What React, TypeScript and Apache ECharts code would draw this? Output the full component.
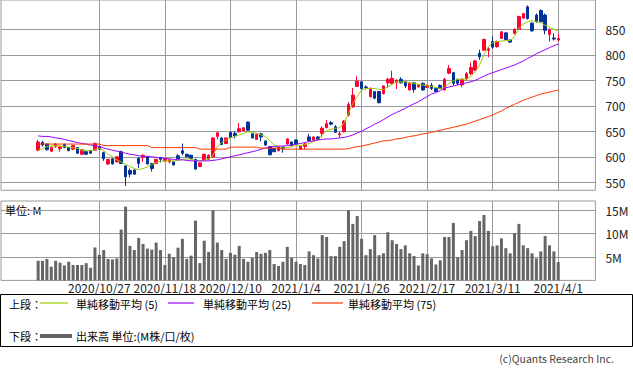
import React, { useEffect, useRef } from 'react';
import * as echarts from 'echarts';

const dates: string[] = [
  '2020/10/7','2020/10/8','2020/10/9','2020/10/12','2020/10/13','2020/10/14','2020/10/15','2020/10/16','2020/10/19','2020/10/20',
  '2020/10/21','2020/10/22','2020/10/23','2020/10/26','2020/10/27','2020/10/28','2020/10/29','2020/10/30','2020/11/2','2020/11/4',
  '2020/11/5','2020/11/6','2020/11/9','2020/11/10','2020/11/11','2020/11/12','2020/11/13','2020/11/16','2020/11/17','2020/11/18',
  '2020/11/19','2020/11/20','2020/11/24','2020/11/25','2020/11/26','2020/11/27','2020/11/30','2020/12/1','2020/12/2','2020/12/3',
  '2020/12/4','2020/12/7','2020/12/8','2020/12/9','2020/12/10','2020/12/11','2020/12/14','2020/12/15','2020/12/16','2020/12/17',
  '2020/12/18','2020/12/21','2020/12/22','2020/12/23','2020/12/24','2020/12/25','2020/12/28','2020/12/29','2020/12/30','2021/1/4',
  '2021/1/5','2021/1/6','2021/1/7','2021/1/8','2021/1/12','2021/1/13','2021/1/14','2021/1/15','2021/1/18','2021/1/19',
  '2021/1/20','2021/1/21','2021/1/22','2021/1/25','2021/1/26','2021/1/27','2021/1/28','2021/1/29','2021/2/1','2021/2/2',
  '2021/2/3','2021/2/4','2021/2/5','2021/2/8','2021/2/9','2021/2/10','2021/2/12','2021/2/15','2021/2/16','2021/2/17',
  '2021/2/18','2021/2/19','2021/2/22','2021/2/24','2021/2/25','2021/2/26','2021/3/1','2021/3/2','2021/3/3','2021/3/4',
  '2021/3/5','2021/3/8','2021/3/9','2021/3/10','2021/3/11','2021/3/12','2021/3/15','2021/3/16','2021/3/17','2021/3/18',
  '2021/3/19','2021/3/22','2021/3/23','2021/3/24','2021/3/25','2021/3/26','2021/3/29','2021/3/30','2021/3/31','2021/4/1',
];

// [open, close, low, high]
const ohlc: number[][] = [
  [613,629,611,633],[628,623,620,631],[625,614,612,626],[611,618,609,620],[620,625,618,627],
  [616,620,610,621],[624,618,617,626],[618,612,611,619],[615,622,613,623],[618,607,606,619],
  [605,614,603,615],[610,605,604,611],[612,607,606,613],[613,626,612,628],[620,615,613,622],
  [608,596,592,610],[586,595,584,596],[596,586,585,597],[590,600,589,601],[610,587,586,612],
  [582,561,543,583],[573,566,560,577],[574,566,565,575],[597,587,578,599],[599,603,590,605],
  [600,586,585,601],[587,577,571,588],[587,595,586,596],[598,595,589,600],[592,596,591,597],
  [590,594,587,595],[590,584,583,591],[602,596,595,605],[612,607,603,626],[605,600,599,606],
  [603,597,596,604],[595,576,575,596],[581,588,580,589],[594,605,593,606],[595,603,594,605],
  [600,637,599,639],[640,647,634,649],[637,624,623,638],[626,637,625,638],[648,638,637,649],
  [646,641,636,650],[649,655,648,666],[651,657,650,658],[668,652,651,669],[645,637,636,646],
  [634,644,633,645],[645,639,630,647],[631,623,622,632],[620,604,603,621],[616,610,609,617],
  [612,620,611,621],[619,616,608,620],[625,635,624,636],[629,622,621,630],[633,625,624,634],
  [615,621,614,622],[620,625,615,627],[639,632,631,645],[633,639,632,640],[639,634,633,640],
  [646,656,638,660],[657,665,656,672],[667,664,662,670],[659,648,647,662],[643,645,638,650],
  [649,670,648,672],[682,703,679,707],[698,721,696,735],[738,748,737,758],[747,734,731,748],
  [737,736,732,740],[718,734,716,736],[728,715,713,729],[728,706,705,729],[724,739,722,740],
  [745,752,735,755],[744,754,742,769],[746,750,733,752],[752,745,744,756],[747,739,735,748],
  [731,744,730,746],[745,732,726,746],[737,741,736,742],[744,731,730,746],[736,740,735,742],
  [740,734,731,745],[734,728,727,736],[740,734,733,742],[731,752,730,755],[764,773,762,780],
  [765,744,740,766],[752,744,741,753],[741,752,736,754],[753,763,750,766],[763,775,760,785],
  [770,788,768,790],[803,796,790,810],[809,830,808,832],[809,812,795,815],[826,815,812,836],
  [816,826,814,828],[832,845,831,847],[843,830,829,845],[829,825,823,830],[842,850,840,852],
  [850,875,849,877],[872,881,870,882],[894,871,869,897],[862,847,845,864],[878,865,863,881],
  [887,865,863,889],[878,848,840,881],[840,849,826,852],[833,831,828,842],[829,832,826,842],
];

// volume in millions
const volume: number[] = [
  4.2,4.2,4.6,2.95,4.2,3.8,3.2,4.0,3.3,3.3,
  3.3,3.7,2.7,7.05,5.5,6.5,4.6,4.5,4.7,10.9,
  15.8,7.4,6.5,9.1,7.8,6.8,6.6,8.1,6.5,3.3,
  5.7,5.0,7.0,8.9,4.6,5.3,12.8,3.7,8.5,6.1,
  15.0,8.1,6.5,4.6,5.9,5.5,7.4,4.6,4.0,4.8,
  6.1,5.7,5.9,6.5,3.5,3.1,4.0,7.2,4.8,4.0,
  3.5,3.3,6.2,5.4,4.7,9.7,9.3,5.2,5.2,7.2,
  8.4,15.0,12.1,13.8,8.9,5.4,6.7,9.7,5.4,5.8,
  10.3,8.6,7.8,6.7,7.5,5.8,5.2,3.2,5.8,5.6,
  4.7,3.4,4.3,9.3,9.3,12.3,5.0,6.5,8.6,10.6,
  9.5,12.7,14.0,10.6,7.3,7.5,9.0,6.9,5.8,10.1,
  12.1,7.5,6.9,5.8,4.7,6.2,9.5,7.5,6.2,3.9,
];

const ma5: number[] = [
  613,616,620,621,622,621,620,619,618,616,
  613,612,612,614,617,612,605,600,594,590,
  585,581,577,575,577,580,585,589,591,592,
  592,592,593,595,596,595,593,592,593,595,
  603,620,628,633,637,640,643,646,649,648,
  646,643,640,632,623,620,617,618,620,623,
  622,624,626,630,633,642,651,654,656,657,
  666,685,705,718,731,734,734,734,732,732,
  737,742,747,747,747,745,744,742,741,739,
  738,736,734,736,744,749,752,752,753,757,
  767,780,800,816,824,826,827,828,828,836,
  852,860,865,867,865,863,858,854,850,847,
];

const ma25: number[] = [
  641,640,640,639,637,636,634,632,630,628,
  626,625,623,622,620,617,615,613,611,609,
  607,605,604,602,601,601,600,599,598,597,
  596,595,594,594,593,592,592,592,592,592,
  593,594,596,598,600,602,604,606,608,610,
  612,615,617,620,620,621,621,622,623,625,
  626,628,630,631,633,634,635,635,636,637,
  638,640,643,647,650,655,659,664,668,673,
  678,683,687,691,695,700,704,708,713,718,
  723,726,730,735,737,739,741,743,745,747,
  750,754,758,762,765,768,771,774,777,780,
  784,788,793,797,802,806,810,814,818,821,
];

const ma75: number[] = [
  625,625,625,625,625,625,625,625,625,625,
  625,625,625,625,625,622,622,622,622,622,
  622,622,622,622,622,622,618,618,618,618,
  618,618,618,618,618,618,618,615,615,615,
  615,615,615,615,619,619,619,619,619,619,
  619,617,617,617,617,617,615,615,615,615,
  615,615,615,615,615,615,615,615,615,615,
  615,616,618,620,621,623,625,627,629,631,
  632,633,635,636,638,640,641,643,645,646,
  648,650,652,654,656,658,660,662,664,667,
  670,673,676,679,682,686,690,695,699,703,
  707,711,714,717,720,723,725,727,729,731,
];

const priceTicks: number[] = [550, 600, 650, 700, 750, 800, 850];
const volumeTicks: number[] = [5, 10, 15];
const labelDates: string[] = ['2020/10/27','2020/11/18','2020/12/10','2021/1/4','2021/1/26','2021/2/17','2021/3/11','2021/4/1'];

const PAD_BEFORE = 8;
const PAD_AFTER = 8;

const UP = '#ff0033';
const DOWN = '#003399';
const C5 = '#99cc00';
const C25 = '#9900ff';
const C75 = '#ff3300';
const GRID = '#999999';
const FONT = '"Noto Sans CJK JP", "Noto Sans", sans-serif';

export default function App() {
  const ref = useRef<HTMLDivElement>(null);
  useEffect(() => {
    if (!ref.current) return;
    const chart = echarts.init(ref.current, undefined, { renderer: 'svg' });
    const cats: string[] = [];
    for (let k = 0; k < PAD_BEFORE; k++) cats.push('pre' + k);
    dates.forEach((d) => cats.push(d));
    for (let k = 0; k < PAD_AFTER; k++) cats.push('post' + k);
    const pad = (arr: any[]) => [...Array(PAD_BEFORE).fill('-'), ...arr];
    const candleData = [...Array(PAD_BEFORE).fill(['-', '-', '-', '-']), ...ohlc];
    const isLabel = (_i: number, v: string) => labelDates.indexOf(v) >= 0;

    const lineSeries = (name: string, data: number[], color: string) => ({
      name,
      type: 'line',
      xAxisIndex: 0,
      yAxisIndex: 0,
      data: pad(data),
      showSymbol: false,
      symbol: 'none',
      lineStyle: { color, width: 1 },
      itemStyle: { color },
      z: 3,
      silent: true,
    });

    const txt = (x: number, y: number, text: string, extra: any = {}) => ({
      type: 'text',
      x,
      y,
      silent: true,
      style: { text, fill: '#000', font: `11px ${FONT}`, textVerticalAlign: 'middle', verticalAlign: 'middle', ...extra },
    });
    const seg = (x1: number, x2: number, y: number, color: string, w: number) => ({
      type: 'line',
      silent: true,
      shape: { x1, y1: y, x2, y2: y },
      style: { stroke: color, lineWidth: w },
    });

    chart.setOption({
      animation: false,
      textStyle: { fontFamily: FONT },
      grid: [
        { left: 1, width: 594.4, top: 0, height: 190.3, show: true, borderColor: GRID, borderWidth: 1, backgroundColor: 'transparent' },
        { left: 1, width: 594.4, top: 201, height: 79.4, show: true, borderColor: GRID, borderWidth: 1, backgroundColor: 'transparent' },
      ],
      xAxis: [
        {
          type: 'category', gridIndex: 0, data: cats, boundaryGap: true,
          axisLine: { show: false }, axisTick: { show: false }, axisLabel: { show: false },
          splitLine: { show: true, interval: isLabel, alignWithLabel: true, lineStyle: { color: GRID, width: 1 } },
        },
        {
          type: 'category', gridIndex: 1, data: cats, boundaryGap: true,
          axisLine: { show: false }, axisTick: { show: false },
          axisLabel: { show: true, interval: isLabel, color: '#222', fontSize: 12, margin: 1.5, fontFamily: FONT, lineHeight: 12 },
          splitLine: { show: true, interval: isLabel, alignWithLabel: true, lineStyle: { color: GRID, width: 1 } },
        },
      ],
      yAxis: [
        {
          type: 'value', gridIndex: 0, position: 'right', min: 534.3, max: 907.5,
          axisLine: { show: false },
          axisTick: { show: false, customValues: priceTicks },
          axisLabel: { show: true, customValues: priceTicks, color: '#222', fontSize: 12, margin: 10, fontFamily: FONT },
          splitLine: { show: true, lineStyle: { color: GRID, width: 1 } },
        },
        {
          type: 'value', gridIndex: 1, position: 'right', min: 0, max: 17,
          axisLine: { show: false },
          axisTick: { show: false, customValues: volumeTicks },
          axisLabel: { show: true, customValues: volumeTicks, color: '#222', fontSize: 12, margin: 10, fontFamily: FONT, formatter: (v: number) => v + 'M' },
          splitLine: { show: true, lineStyle: { color: GRID, width: 1 } },
        },
      ],
      series: [
        {
          name: '株価',
          type: 'candlestick',
          xAxisIndex: 0,
          yAxisIndex: 0,
          data: candleData,
          barWidth: 3,
          silent: true,
          itemStyle: { color: UP, color0: DOWN, borderColor: UP, borderColor0: DOWN, borderWidth: 1 },
          z: 2,
        },
        lineSeries('単純移動平均(5)', ma5, C5),
        lineSeries('単純移動平均(25)', ma25, C25),
        lineSeries('単純移動平均(75)', ma75, C75),
        {
          name: '出来高',
          type: 'bar',
          xAxisIndex: 1,
          yAxisIndex: 1,
          data: pad(volume),
          barWidth: 3,
          silent: true,
          itemStyle: { color: '#666666' },
        },
      ],
      graphic: [
        txt(5, 210, '単位: M'),
        { type: 'rect', silent: true, shape: { x: 0.5, y: 294.5, width: 632, height: 52 }, style: { fill: 'none', stroke: '#000', lineWidth: 1 } },
        txt(9, 304, '上段：'),
        seg(40, 68, 303, C5, 1.2),
        txt(76, 304, '単純移動平均 (5)'),
        seg(168, 194, 303, C25, 1.2),
        txt(203, 304, '単純移動平均 (25)'),
        seg(312, 343, 303, C75, 1.2),
        txt(348, 304, '単純移動平均 (75)'),
        txt(9, 336, '下段：'),
        seg(40, 72, 336, '#666666', 4),
        txt(76, 336, '出来高 単位:(M株/口/枚)'),
        txt(614, 358, '(c)Quants Research Inc.', { fill: '#444', font: `10.5px ${FONT}`, textAlign: 'right', align: 'right' }),
      ],
    });
    return () => chart.dispose();
  }, []);
  return <div ref={ref} style={{ position: 'absolute', left: 0, top: 0, width: 633, height: 373 }} />;
}
